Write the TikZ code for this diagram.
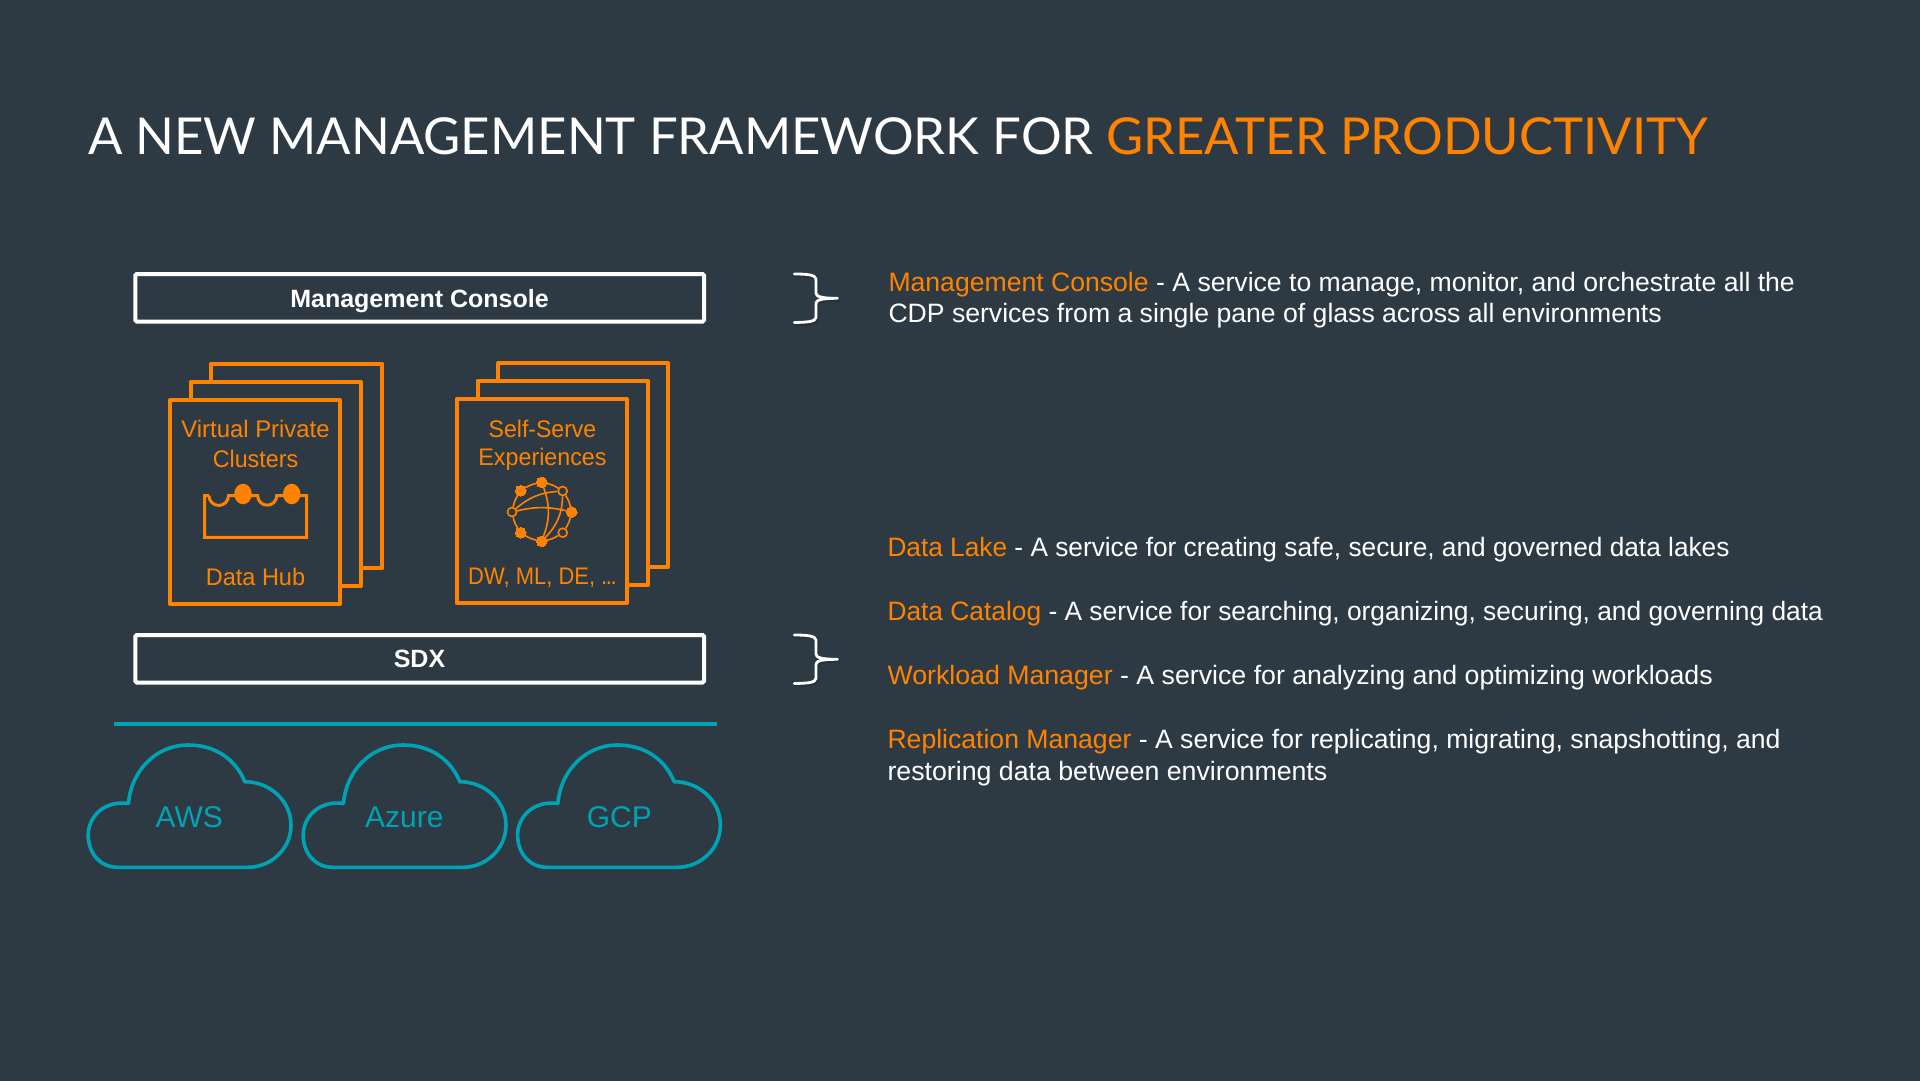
\documentclass[tikz,border=0pt]{standalone}
\usepackage{fontspec}
\usepackage{graphicx}
\setmainfont{Liberation Sans}
\newfontfamily\titlefont{Lato}
\definecolor{bgc}{HTML}{2D3A44}
\definecolor{org}{HTML}{FF8300}
\definecolor{tealc}{HTML}{00A3B4}
\usetikzlibrary{calc,shapes.geometric}
\tikzset{
 page/.style={fill=bgc,draw=none,inner sep=0,outer sep=0,minimum width=1930pt,minimum height=1090pt},
 titletext/.style={anchor=base west,inner sep=0,outer sep=0,text=white,font=\titlefont\fontsize{50.9}{60}\selectfont},
 body/.style={anchor=base west,inner sep=0,outer sep=0,text=white,font=\fontsize{26.6}{32}\selectfont},
 card/.style={draw=org,line width=4pt,fill=bgc,inner sep=0,outer sep=0,anchor=north west,line join=round},
 cardtext/.style={inner sep=0,outer sep=0,anchor=base,text=org,font=\fontsize{24}{30}\selectfont},
 bar/.style={draw=white,line width=4pt,inner sep=0,outer sep=0,anchor=north west,rounded corners=1.5pt},
 bartext/.style={inner sep=0,outer sep=0,anchor=base,text=white,font=\bfseries\fontsize{25}{30}\selectfont},
 cloudline/.style={draw=tealc,line width=3.6pt,line join=round},
 cloudtext/.style={inner sep=0,outer sep=0,anchor=base,text=tealc,font=\fontsize{30}{36}\selectfont},
 bracket/.style={draw=white,line width=2.8pt,line cap=round,line join=round},
 bracketshadow/.style={draw=black,opacity=0.12,line width=4pt,line cap=round,line join=round},
 icon/.style={draw=org,line width=3pt},
 dotfull/.style={circle,fill=org,draw=org,line width=0pt,inner sep=0,minimum size=10.6pt},
 dotopen/.style={circle,fill=bgc,draw=org,line width=1.6pt,inner sep=0,minimum size=9pt},
 edge/.style={draw=org,line width=1.6pt},
 blob/.style={ellipse,fill=org,inner sep=0,minimum width=17.5pt,minimum height=20.5pt},
}
\newcommand{\cardat}[5]{\node[card,minimum width=#4pt,minimum height=#5pt] (#1) at (#2,#3) {};}
\newcommand{\cloudat}[4]{%
 \begin{scope}[shift={(#1,0)}]
 \draw[cloudline] (128.5,803.5) .. controls (131,771) and (156,745) .. (188,745)
  .. controls (216,745) and (236,760) .. (244.8,781.7)
  .. controls (270,781.7) and (291,801) .. (291,825)
  .. controls (291,849) and (271,867.3) .. (247.8,867.3)
  -- (117.7,867.3)
  .. controls (100,867.3) and (88.2,853) .. (88.2,835)
  .. controls (88.2,817) and (104,800) .. (128.5,803.5) -- cycle;
 \node[cloudtext] (#3) at (#4,827) {#2};
 \end{scope}}
\newcommand{\bracepath}[1]{(#1a) .. controls (805,274) and (816,274.5) .. (816,279) -- (816,293)
   .. controls (816,296.5) and (821,298.3) .. (#1b)
   (#1b) .. controls (821,298.3) and (816,300) .. (816,303.5) -- (816,317.5)
   .. controls (816,322) and (805,322.3) .. (#1c)}
\newcommand{\braceat}[2]{%
 \begin{scope}[shift={(0,#1)}]
 \coordinate (#2a) at (794.3,274);
 \coordinate (#2b) at (837.5,298.3);
 \coordinate (#2c) at (794.3,322.5);
 \begin{scope}[shift={(1.2,1.5)}]
 \coordinate (#2sa) at (794.3,274);
 \coordinate (#2sb) at (837.5,298.3);
 \coordinate (#2sc) at (794.3,322.5);
 \draw[bracketshadow] \bracepath{#2s};
 \end{scope}
 \draw[bracket] \bracepath{#2};
 \end{scope}}
\begin{document}
\begin{tikzpicture}[x=1pt,y=-1pt]
\useasboundingbox (0,0) rectangle (1920,1080);
\node[page,anchor=north west] (bg) at (-5,-5) {};
\node[titletext] (title) at (88,154) {A NEW MANAGEMENT FRAMEWORK FOR \textcolor{org}{GREATER PRODUCTIVITY}};
% bars
\node[bar,minimum width=568.7pt,minimum height=47.5pt] (mc) at (135.3,274) {};
\node[bartext] (mct) at (419.5,307) {Management Console};
\node[bar,minimum width=568.7pt,minimum height=47.5pt] (sdx) at (135.3,635) {};
\node[bartext] (sdxt) at (419.5,667) {SDX};
% stack 1
\cardat{a3}{210.6}{364}{171.8}{204}
\cardat{a2}{190.6}{382}{170.1}{204}
\cardat{a1}{170}{400}{170}{204}
\node[cardtext] (vpc1) at (255.5,437) {\scalebox{0.995}[1]{Virtual Private}};
\node[cardtext] (vpc2) at (255.5,467) {\scalebox{0.97}[1]{Clusters}};
\node[cardtext] (dh) at (255.5,585) {\scalebox{0.98}[1]{Data Hub}};
% data hub icon
\draw[icon,line join=miter] (209,495.7) -- (204.7,495.7) -- (204.7,537.3) -- (306.7,537.3) -- (306.7,495.7) -- (296,495.7)
   (285,495.7) -- (276.7,495.7) arc[start angle=0,end angle=180,radius=9.5] -- (248,495.7)
   (238,495.7) -- (228.5,495.7) arc[start angle=0,end angle=180,radius=9.75];
\node[blob] (b1) at (243,494) {};
\node[blob] (b2) at (291.7,494) {};
% stack 2
\cardat{c3}{498}{363}{170}{204}
\cardat{c2}{477.5}{381}{170.5}{204}
\cardat{c1}{456.5}{399}{170.5}{204}
\node[cardtext] (ss1) at (542.5,437.4) {\scalebox{0.96}[1]{Self-Serve}};
\node[cardtext] (ss2) at (542.5,465.6) {\scalebox{0.97}[1]{Experiences}};
\node[cardtext] (dw) at (542.5,584.6) {\scalebox{0.915}[1]{DW, ML, DE, .\kern-1.5pt.\kern-1.5pt.}};
% network icon
\node[dotfull] (n1) at (541.7,482.3) {};
\node[dotfull] (n2) at (520.7,490.7) {};
\node[dotopen] (n3) at (562.7,491) {};
\node[dotfull] (n4) at (571.7,512) {};
\node[dotopen] (n5) at (512,512) {};
\node[dotfull] (n6) at (520.7,532.7) {};
\node[dotfull] (n7) at (541.7,541.3) {};
\node[dotopen] (n8) at (562.7,532.7) {};
\draw[edge] (n1) to[bend left=10] (n3);
\draw[edge] (n3) to[bend left=10] (n4);
\draw[edge] (n4) to[bend left=10] (n8);
\draw[edge] (n8) to[bend left=10] (n7);
\draw[edge] (n7) to[bend left=10] (n6);
\draw[edge] (n6) to[bend left=10] (n5);
\draw[edge] (n5) to[bend left=10] (n2);
\draw[edge] (n2) to[bend left=10] (n1);
\draw[edge] (n5) to[bend left=18] (n3);
\draw[edge] (n5) to[bend left=13] (n4);
\draw[edge] (n1) to[bend left=20] (n7);
\draw[edge] (n7) to[bend right=21] (n3);
% teal line
\coordinate (la) at (113.5,724);
\coordinate (lb) at (716.5,724);
\draw[draw=tealc,line width=3.8pt] (la) -- (lb);
% clouds
\cloudat{0}{AWS}{aws}{189.3}
\cloudat{215}{Azure}{azure}{189.3}
\cloudat{429.4}{GCP}{gcp}{190}
% braces
\braceat{0}{p}
\braceat{361}{q}
% body
\node[body] (t1) at (888.5,291) {\textcolor{org}{Management Console} - A service to manage, monitor, and orchestrate all the};
\node[body] (t2) at (888.5,322.6) {CDP services from a single pane of glass across all environments};
\node[body] (t3) at (887.5,556) {\scalebox{0.987}[1]{\textcolor{org}{Data Lake} - A service for creating safe, secure, and governed data lakes}};
\node[body] (t4) at (887.5,620) {\scalebox{0.99}[1]{\textcolor{org}{Data Catalog} - A service for searching, organizing, securing, and governing data}};
\node[body] (t5) at (887.5,684) {\scalebox{1.0045}[1]{\textcolor{org}{Workload Manager} - A service for analyzing and optimizing workloads}};
\node[body] (t6) at (887.5,748) {\textcolor{org}{Replication Manager} - A service for replicating, migrating, snapshotting, and};
\node[body] (t7) at (887.5,780) {\scalebox{1.005}[1]{restoring data between environments}};
\end{tikzpicture}
\end{document}
